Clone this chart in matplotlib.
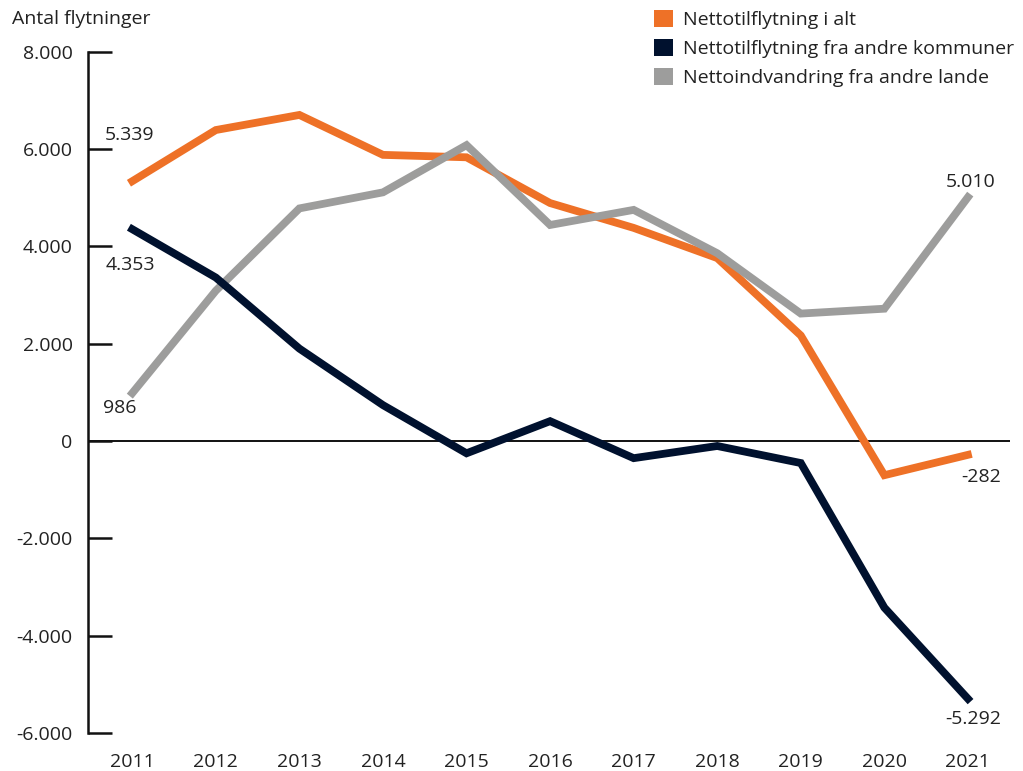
import matplotlib.pyplot as plt
from matplotlib.patches import Patch
from matplotlib.ticker import FuncFormatter

plt.rcParams['font.family'] = ['Open Sans', 'DejaVu Sans']

years = list(range(2011, 2022))
total = [5339, 6390, 6700, 5880, 5830, 4890, 4380, 3760, 2170, -700, -282]
kommuner = [4353, 3360, 1900, 740, -250, 410, -350, -100, -450, -3420, -5292]
lande = [986, 3090, 4780, 5110, 6080, 4440, 4750, 3860, 2620, 2720, 5010]

names = ['Nettotilflytning i alt',
         'Nettotilflytning fra andre kommuner',
         'Nettoindvandring fra andre lande']
colors = ['#EE7127', '#00112E', '#9D9D9C']
txt = '#222222'
fs = 14

fig = plt.figure(figsize=(10.23, 7.71), dpi=100)
ax = fig.add_axes([0.086, 0.049, 0.901, 0.884])

ax.plot(years, total, color=colors[0], lw=5.6, solid_joinstyle='miter', zorder=3)
ax.plot(years, lande, color=colors[2], lw=5.6, solid_joinstyle='miter', zorder=4)
ax.plot(years, kommuner, color=colors[1], lw=5.6, solid_joinstyle='miter', zorder=5)
ax.axhline(0, color='#111111', lw=1.4, zorder=2)

ax.set_xlim(2010.47, 2021.5)
ax.set_ylim(-6000, 8000)
ax.set_yticks(range(-6000, 8001, 2000))
ax.yaxis.set_major_formatter(FuncFormatter(lambda v, p: f'{int(v):,}'.replace(',', '.')))
ax.set_xticks(years)

for s in ['top', 'right', 'bottom']:
    ax.spines[s].set_visible(False)
ax.spines['left'].set_linewidth(1.8)
ax.spines['left'].set_color('#111111')
ax.tick_params(axis='y', direction='in', length=17, width=1.8, color='#111111',
               labelsize=fs, labelcolor=txt, pad=11)
ax.tick_params(axis='x', length=0, labelsize=fs, labelcolor=txt, pad=14)

ax.annotate('5.339', (years[0], total[0]), xytext=(-19.5, 33), textcoords='offset points',
            fontsize=fs, color=txt, va='center')
ax.annotate('4.353', (years[0], kommuner[0]), xytext=(-19.5, -26), textcoords='offset points',
            fontsize=fs, color=txt, va='center')
ax.annotate('986', (years[0], lande[0]), xytext=(-21, -11), textcoords='offset points',
            fontsize=fs, color=txt, va='center')
ax.annotate('5.010', (years[-1], lande[-1]), xytext=(2, 11), textcoords='offset points',
            fontsize=fs, color=txt, va='center', ha='center')
ax.annotate('-282', (years[-1], total[-1]), xytext=(9.5, -16), textcoords='offset points',
            fontsize=fs, color=txt, va='center', ha='center')
ax.annotate('-5.292', (years[-1], kommuner[-1]), xytext=(3.5, -14.5), textcoords='offset points',
            fontsize=fs, color=txt, va='center', ha='center')

fig.text(0.012, 0.975, 'Antal flytninger', fontsize=fs, color=txt, va='center')

handles = [Patch(facecolor=c, edgecolor='none') for c in colors]
fig.legend(handles, names, loc='upper left', bbox_to_anchor=(0.622, 1.01),
           frameon=False, fontsize=fs, handlelength=1.0, handleheight=1.0,
           handletextpad=0.5, labelspacing=0.5, labelcolor=txt)

fig.savefig('out.png', dpi=100)
